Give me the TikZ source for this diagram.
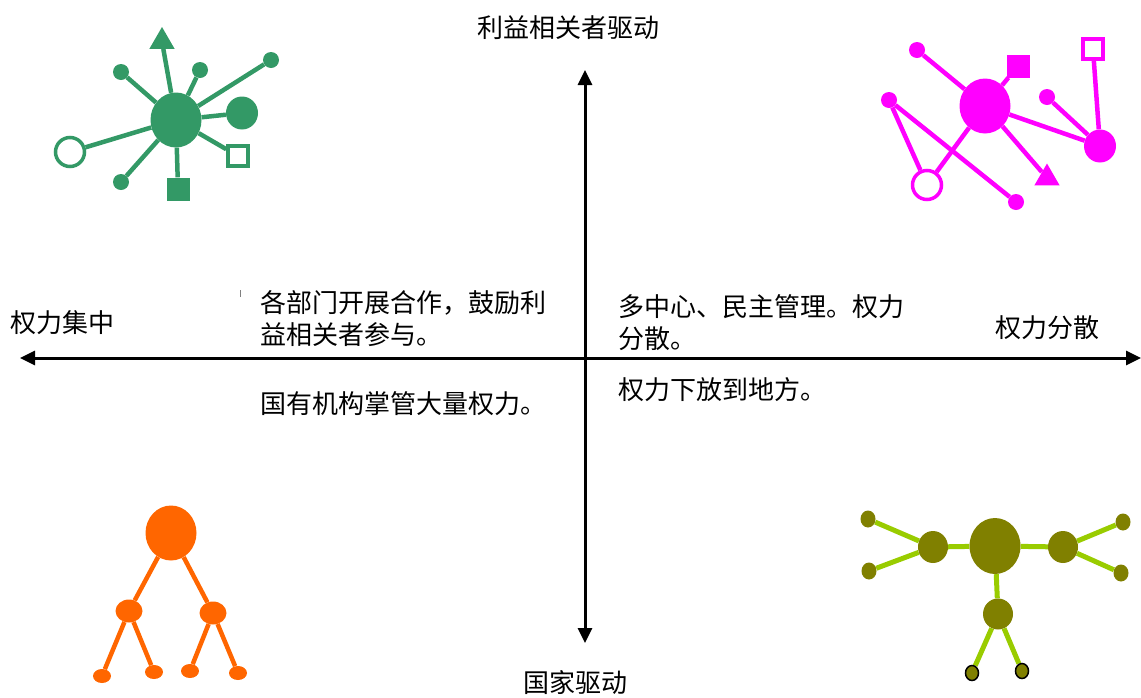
\documentclass[tikz,border=0pt]{standalone}
\usepackage{fontspec}
\setmainfont{Noto Sans CJK SC}
\usetikzlibrary{shapes.geometric,arrows.meta,backgrounds}
\definecolor{GreenNet}{RGB}{51,153,102}
\definecolor{PinkNet}{RGB}{255,0,255}
\definecolor{OrangeNet}{RGB}{255,102,0}
\definecolor{OliveNet}{RGB}{128,128,0}
\definecolor{LimeLink}{RGB}{153,204,0}
\begin{document}
\begin{tikzpicture}[x=1pt,y=-1pt]
	\tikzstyle{Label} = [inner sep=0pt, font=\fontsize{26}{32}\selectfont, align=left]
	\tikzstyle{Axis} = [line width=3pt, {Triangle[length=15pt,width=14pt]}-{Triangle[length=15pt,width=14pt]}]
	\tikzstyle{Hub} = [ellipse, minimum width=51pt, minimum height=55pt, inner sep=0pt]
	\tikzstyle{Big} = [ellipse, minimum width=32pt, minimum height=33pt, inner sep=0pt]
	\tikzstyle{Dot} = [circle, minimum size=16pt, inner sep=0pt]
	\tikzstyle{Ring} = [circle, minimum size=29pt, inner sep=0pt, line width=3.5pt, fill=white]
	\tikzstyle{Box} = [rectangle, minimum size=23pt, inner sep=0pt]
	\tikzstyle{OpenBox} = [rectangle, minimum size=20pt, inner sep=0pt, line width=3.5pt, fill=white]
	\tikzstyle{Tri} = [regular polygon, regular polygon sides=3, minimum size=29pt, inner sep=0pt]
	\tikzstyle{Link} = [line width=4.5pt]
	\useasboundingbox (0,0) rectangle (1141,697);
	% axes
	\coordinate (W) at (20,358);
	\coordinate (E) at (1141,358);
	\coordinate (N) at (585,70);
	\coordinate (S) at (585,643);
	\draw [Axis] (W) -- (E);
	\draw [Axis] (N) -- (S);
	\node (top) at (568,28) [Label] {利益相关者驱动};
	\node (bottom) at (575,683) [Label] {国家驱动};
	\node (left) at (10,323) [Label, anchor=west] {权力集中};
	\node (right) at (995,328) [Label, anchor=west] {权力分散};
	\node (q1) at (260,319) [Label, anchor=west] {各部门开展合作，鼓励利\\益相关者参与。};
	\node (q2) at (618,323) [Label, anchor=west] {多中心、民主管理。权力\\分散。};
	\node (q3) at (260,404) [Label, anchor=west] {国有机构掌管大量权力。};
	\node (q4) at (618,390) [Label, anchor=west] {权力下放到地方。};
	\draw [line width=0.8pt, gray] (240,290) -- (240,297);
	% stakeholder network, top left
	\node (g0) at (176,120) [Hub, fill=GreenNet] {};
	\node (g1) at (162,41.5) [Tri, fill=GreenNet] {};
	\node (g2) at (121,72) [Dot, fill=GreenNet] {};
	\node (g3) at (200,70) [Dot, fill=GreenNet] {};
	\node (g4) at (271,60) [Dot, fill=GreenNet] {};
	\node (g5) at (242,113) [Big, fill=GreenNet] {};
	\node (g6) at (238,156) [OpenBox, draw=GreenNet] {};
	\node (g7) at (178,189) [Box, fill=GreenNet] {};
	\node (g8) at (121,182) [Dot, fill=GreenNet] {};
	\node (g9) at (70,152) [Ring, draw=GreenNet] {};
	% polycentric network, top right
	\node (m0) at (985,106) [Hub, fill=PinkNet] {};
	\node (m1) at (917,50) [Dot, fill=PinkNet] {};
	\node (m2) at (1018,66) [Box, fill=PinkNet] {};
	\node (m3) at (1093,49) [OpenBox, draw=PinkNet] {};
	\node (m4) at (1047,97) [Dot, fill=PinkNet] {};
	\node (m5) at (1100,146) [Big, fill=PinkNet] {};
	\node (m6) at (889,100) [Dot, fill=PinkNet] {};
	\node (m7) at (927,185) [Ring, draw=PinkNet] {};
	\node (m8) at (1047,178) [Tri, fill=PinkNet] {};
	\node (m9) at (1016,202) [Dot, fill=PinkNet] {};
	% hierarchy, bottom left
	\node (o0) at (171,533) [Hub, fill=OrangeNet] {};
	\node (o1) at (129,611) [ellipse, minimum width=27pt, minimum height=23pt, fill=OrangeNet] {};
	\node (o2) at (213,613) [ellipse, minimum width=27pt, minimum height=23pt, fill=OrangeNet] {};
	\node (o3) at (102,676) [ellipse, minimum width=18pt, minimum height=14pt, fill=OrangeNet] {};
	\node (o4) at (154,672) [ellipse, minimum width=18pt, minimum height=14pt, fill=OrangeNet] {};
	\node (o5) at (190,671) [ellipse, minimum width=18pt, minimum height=14pt, fill=OrangeNet] {};
	\node (o6) at (238,673) [ellipse, minimum width=18pt, minimum height=14pt, fill=OrangeNet] {};
	% devolved network, bottom right
	\node (y0) at (995,546) [ellipse, minimum width=51pt, minimum height=56pt, fill=OliveNet] {};
	\node (y1) at (933,547) [ellipse, minimum width=30pt, minimum height=32pt, fill=OliveNet] {};
	\node (y2) at (1063,547) [ellipse, minimum width=30pt, minimum height=32pt, fill=OliveNet] {};
	\node (y3) at (998,614) [ellipse, minimum width=30pt, minimum height=31pt, fill=OliveNet] {};
	\node (y4) at (868,519) [ellipse, minimum width=15pt, minimum height=17pt, fill=OliveNet] {};
	\node (y5) at (869,571) [ellipse, minimum width=15pt, minimum height=17pt, fill=OliveNet] {};
	\node (y6) at (1123,522) [ellipse, minimum width=15pt, minimum height=17pt, fill=OliveNet] {};
	\node (y7) at (1121,573) [ellipse, minimum width=15pt, minimum height=17pt, fill=OliveNet] {};
	\node (y8) at (972,673) [ellipse, minimum width=13pt, minimum height=15pt, fill=OliveNet, draw=black, line width=1.5pt] {};
	\node (y9) at (1022,671) [ellipse, minimum width=13pt, minimum height=15pt, fill=OliveNet, draw=black, line width=1.5pt] {};
	\begin{pgfonlayer}{background}
		\draw [Link, GreenNet] (g0) to (g1);
		\draw [Link, GreenNet] (g0) to (g2);
		\draw [Link, GreenNet] (g0) to (g3);
		\draw [Link, GreenNet] (g0) to (g4);
		\draw [Link, GreenNet] (g0) to (g5);
		\draw [Link, GreenNet] (g0) to (g6);
		\draw [Link, GreenNet] (g0) to (g7);
		\draw [Link, GreenNet] (g0) to (g8);
		\draw [Link, GreenNet] (g0) to (g9);
		\draw [Link, PinkNet] (m0) to (m1);
		\draw [Link, PinkNet] (m0) to (m2);
		\draw [Link, PinkNet] (m0) to (m5);
		\draw [Link, PinkNet] (m0) to (m7);
		\draw [Link, PinkNet] (m0) to (m8);
		\draw [Link, PinkNet] (m3) to (m5);
		\draw [Link, PinkNet] (m4) to (m5);
		\draw [Link, PinkNet] (m6) to (m7);
		\draw [Link, PinkNet] (m6) to (m9);
		\draw [Link, OrangeNet] (o0) to (o1);
		\draw [Link, OrangeNet] (o0) to (o2);
		\draw [Link, OrangeNet] (o1) to (o3);
		\draw [Link, OrangeNet] (o1) to (o4);
		\draw [Link, OrangeNet] (o2) to (o5);
		\draw [Link, OrangeNet] (o2) to (o6);
		\draw [Link, LimeLink, line width=5pt] (y0) to (y1);
		\draw [Link, LimeLink, line width=5pt] (y0) to (y2);
		\draw [Link, LimeLink, line width=5pt] (y0) to (y3);
		\draw [Link, LimeLink, line width=5pt] (y1) to (y4);
		\draw [Link, LimeLink, line width=5pt] (y1) to (y5);
		\draw [Link, LimeLink, line width=5pt] (y2) to (y6);
		\draw [Link, LimeLink, line width=5pt] (y2) to (y7);
		\draw [Link, LimeLink, line width=5pt] (y3) to (y8);
		\draw [Link, LimeLink, line width=5pt] (y3) to (y9);
	\end{pgfonlayer}
\end{tikzpicture}
\end{document}
